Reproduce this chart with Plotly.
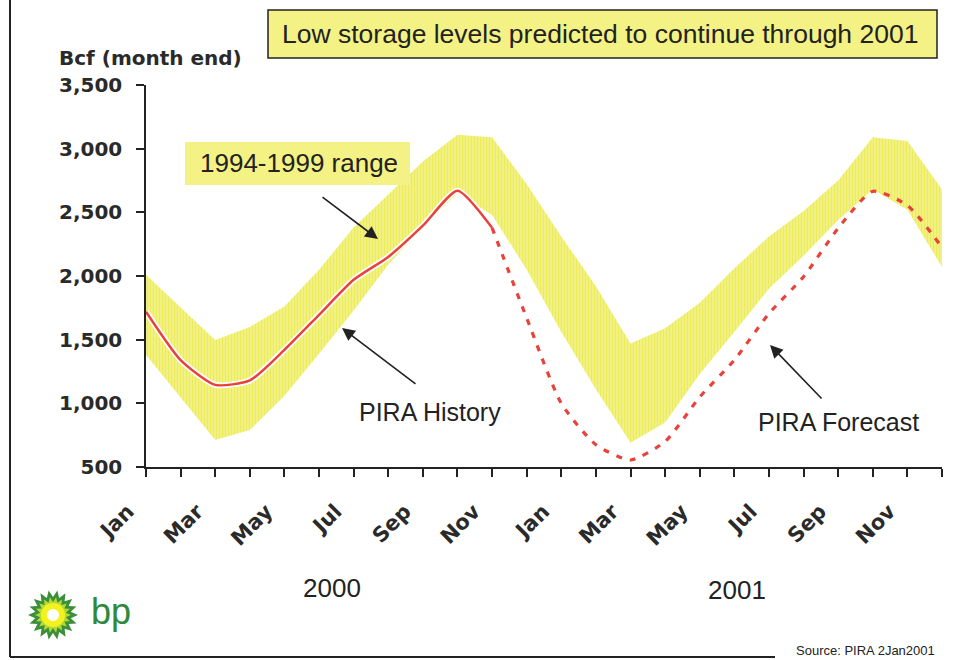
import math
import plotly.graph_objects as go

# ---- data (Bcf, month end) ----
months = ["Jan", "Feb", "Mar", "Apr", "May", "Jun",
          "Jul", "Aug", "Sep", "Oct", "Nov", "Dec"] * 2
month_idx = list(range(24))
tick_text = [m if i % 2 == 0 else "" for i, m in enumerate(months)]

# 1994-1999 storage range
range_low = [1380, 1050, 712, 790, 1060, 1390, 1730, 2090, 2380, 2650, 2480, 2050,
             1560, 1110, 690, 850, 1230, 1560, 1900, 2160, 2440, 2680, 2520, 2070]
range_high = [2010, 1750, 1497, 1600, 1760, 2050, 2380, 2640, 2900, 3110, 3090, 2720,
              2310, 1920, 1470, 1590, 1790, 2060, 2310, 2510, 2750, 3090, 3060, 2680]

# PIRA history (Jan-Nov 2000) and forecast (Nov 2000 - Dec 2001)
hist_x = list(range(0, 11))
hist_y = [1720, 1340, 1145, 1180, 1420, 1695, 1970, 2150, 2395, 2670, 2378]
fcst_x = list(range(10, 24))
fcst_y = [2378, 1670, 1000, 675, 555, 700, 1050, 1340, 1705, 1995, 2375, 2665, 2555, 2225]

y_ticks = [500, 1000, 1500, 2000, 2500, 3000, 3500]

# ---- page geometry (pixels) ----
W, H = 964, 660
L, R, T, B = 146, 22, 85, 193
PW, PH = W - L - R, H - T - B


def px(x):
    return (x - L) / PW


def py(y):
    return (H - B - y) / PH


SANS = "Liberation Sans, Arial, sans-serif"
BOLD = "DejaVu Sans, sans-serif"
YELLOW = "#f0ee60"
RED = "#e8423a"
INK = "#222222"
LABEL = "#2a2a2a"

fig = go.Figure()

fig.add_trace(go.Scatter(x=month_idx, y=range_low, mode="lines",
                         line=dict(width=0, color=YELLOW), hoverinfo="skip",
                         showlegend=False))
fig.add_trace(go.Scatter(x=month_idx, y=range_high, mode="lines", fill="tonexty",
                         fillcolor=YELLOW,
                         fillpattern=dict(shape="|", fgcolor="#e2e220", bgcolor="#f5f592",
                                          size=3, solidity=0.5),
                         line=dict(width=0, color=YELLOW),
                         hoverinfo="skip", showlegend=False))

fig.add_trace(go.Scatter(x=hist_x, y=hist_y, mode="lines",
                         line=dict(color="white", width=6, shape="spline", smoothing=0.6),
                         hoverinfo="skip", showlegend=False))
fig.add_trace(go.Scatter(x=hist_x, y=hist_y, mode="lines", name="PIRA History",
                         line=dict(color=RED, width=2.5, shape="spline", smoothing=0.6),
                         showlegend=False))
fig.add_trace(go.Scatter(x=fcst_x, y=fcst_y, mode="lines", name="PIRA Forecast",
                         line=dict(color=RED, width=3.2, dash="6px,8px",
                                   shape="spline", smoothing=0.6),
                         showlegend=False))

shapes = []
# outer frame (left and bottom edges)
shapes.append(dict(type="line", xref="paper", yref="paper",
                   x0=px(10), y0=py(0), x1=px(10), y1=py(657),
                   line=dict(color=INK, width=2)))
shapes.append(dict(type="line", xref="paper", yref="paper",
                   x0=px(10), y0=py(657), x1=px(775), y1=py(657),
                   line=dict(color=INK, width=2)))
# headline box
shapes.append(dict(type="rect", xref="paper", yref="paper",
                   x0=px(268), y0=py(10), x1=px(937), y1=py(58),
                   fillcolor="#f4f284", line=dict(color=INK, width=1.5)))
# range label box
shapes.append(dict(type="rect", xref="paper", yref="paper",
                   x0=px(185), y0=py(142), x1=px(410), y1=py(185),
                   fillcolor="#f4f284", line=dict(width=0)))


# bp helios mark
def star_path(cx, cy, r_out, r_in, n):
    pts = []
    for k in range(2 * n):
        r = r_out if k % 2 == 0 else r_in
        a = math.pi * k / n
        pts.append((cx + r * math.cos(a), cy + r * math.sin(a)))
    return "M " + " L ".join(f"{px(x):.5f},{py(y):.5f}" for x, y in pts) + " Z"


def circle_path(cx, cy, r, n=40):
    pts = [(cx + r * math.cos(2 * math.pi * k / n), cy + r * math.sin(2 * math.pi * k / n))
           for k in range(n)]
    return "M " + " L ".join(f"{px(x):.5f},{py(y):.5f}" for x, y in pts) + " Z"


cx, cy = 53, 615
shapes.append(dict(type="path", xref="paper", yref="paper",
                   path=star_path(cx, cy, 25, 18, 18), fillcolor="#3a8f3a",
                   line=dict(width=0)))
shapes.append(dict(type="path", xref="paper", yref="paper",
                   path=star_path(cx, cy, 18, 13, 18), fillcolor="#b5d936",
                   line=dict(width=0)))
shapes.append(dict(type="path", xref="paper", yref="paper",
                   path=circle_path(cx, cy, 12), fillcolor="#f2f21e",
                   line=dict(width=0)))
shapes.append(dict(type="path", xref="paper", yref="paper",
                   path=circle_path(cx, cy, 6), fillcolor="#ffffff",
                   line=dict(width=0)))

annotations = [
    dict(text="Low storage levels predicted to continue through 2001",
         x=px(600), y=py(34), font=dict(family=SANS, size=26.5, color=INK)),
    dict(text="Bcf (month end)", x=px(150), y=py(58),
         font=dict(family=BOLD, size=20, color=LABEL, weight="bold")),
    dict(text="1994-1999 range", x=px(299), y=py(163),
         font=dict(family=SANS, size=26, color=INK)),
    dict(text="PIRA History", x=px(430), y=py(412),
         font=dict(family=SANS, size=25, color=INK)),
    dict(text="PIRA Forecast", x=px(838), y=py(422),
         font=dict(family=SANS, size=25, color=INK)),
    dict(text="2000", x=px(332), y=py(588),
         font=dict(family=SANS, size=26, color=INK)),
    dict(text="2001", x=px(737), y=py(590),
         font=dict(family=SANS, size=26, color=INK)),
    dict(text="Source: PIRA 2Jan2001", x=px(937), y=py(650), xanchor="right",
         font=dict(family=SANS, size=13, color=INK)),
    dict(text="bp", x=px(89), y=py(611), xanchor="left",
         font=dict(family=SANS, size=36, color="#2e8a3a")),
]
for a in annotations:
    a.setdefault("xref", "paper")
    a.setdefault("yref", "paper")
    a.setdefault("showarrow", False)
    a.setdefault("xanchor", "center")
    a.setdefault("yanchor", "middle")

# pointer arrows: (head x, head y, tail x, tail y)
for hx, hy, tx, ty in [(378, 239, 321, 196), (342, 328, 417, 385), (770, 345, 823, 400)]:
    annotations.append(dict(text="", xref="paper", yref="paper", x=px(hx), y=py(hy),
                            ax=tx - hx, ay=ty - hy, showarrow=True, arrowhead=2,
                            arrowsize=1.6, arrowwidth=1.6, arrowcolor=INK))

fig.update_layout(
    width=W, height=H,
    margin=dict(l=L, r=R, t=T, b=B, pad=0),
    paper_bgcolor="white", plot_bgcolor="white",
    shapes=shapes, annotations=annotations,
    showlegend=False,
    xaxis=dict(range=[0, 23], tickmode="array", tickvals=month_idx, ticktext=tick_text,
               tickangle=-45, ticks="outside", ticklen=8, tickwidth=1.5, tickcolor=INK,
               ticklabelstandoff=14, ticklabelshift=-18,
               showline=True, linecolor=INK, linewidth=1.5, showgrid=False,
               zeroline=False, fixedrange=True,
               tickfont=dict(family=BOLD, size=21, color=LABEL, weight="bold")),
    yaxis=dict(range=[500, 3500], tickmode="array", tickvals=y_ticks, tickformat=",d",
               ticks="outside", ticklen=8, tickwidth=1.5, tickcolor=INK,
               ticklabelstandoff=10,
               showline=True, linecolor=INK, linewidth=1.5, showgrid=False,
               zeroline=False, fixedrange=True,
               tickfont=dict(family=BOLD, size=20, color=LABEL, weight="bold")),
)

fig.write_html("out.html")
